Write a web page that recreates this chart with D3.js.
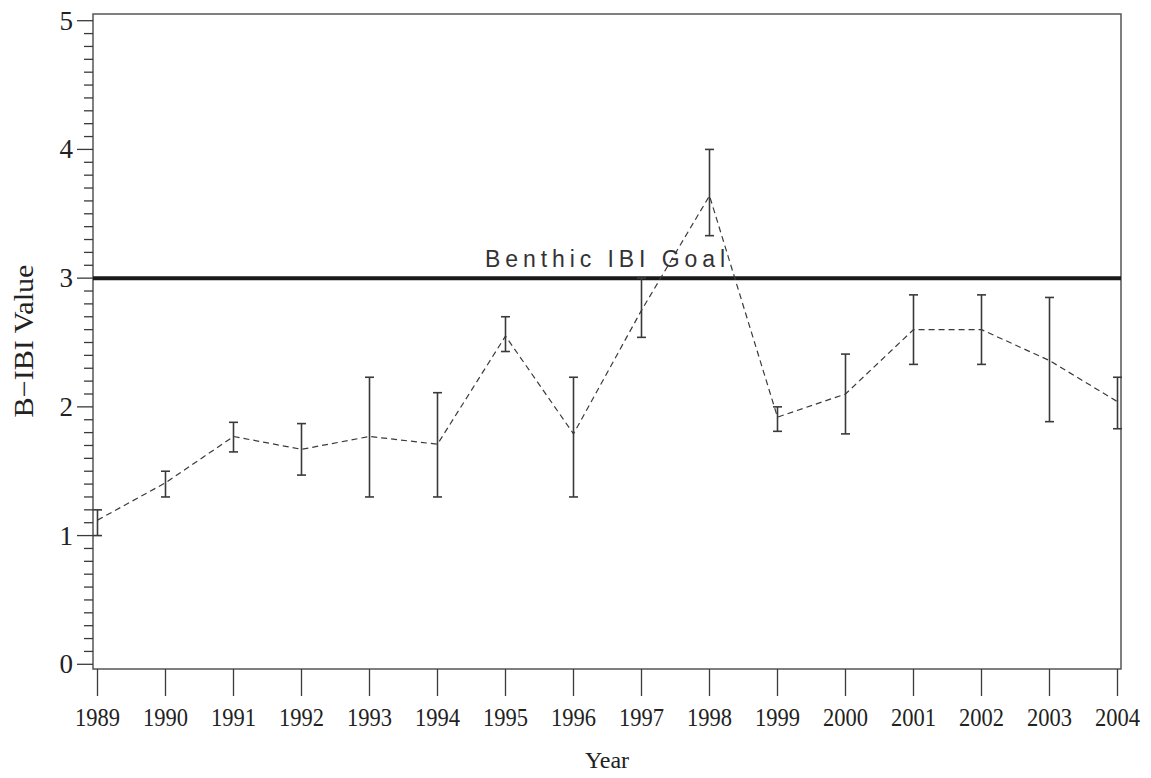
<!DOCTYPE html>
<html><head><meta charset="utf-8">
<script src="https://cdn.jsdelivr.net/npm/d3@7"></script>
<style>body{margin:0;background:#fff;} svg{display:block;}</style>
</head><body>
<svg id="c" width="1151" height="778"></svg>
<script>
const years = [1989,1990,1991,1992,1993,1994,1995,1996,1997,1998,1999,2000,2001,2002,2003,2004];
const means = [1.12,1.41,1.77,1.67,1.77,1.71,2.55,1.79,2.75,3.64,1.92,2.10,2.60,2.60,2.36,2.04];
const upper = [1.20,1.50,1.88,1.87,2.23,2.11,2.70,2.23,3.00,4.00,2.00,2.41,2.87,2.87,2.85,2.23];
const lower = [1.00,1.30,1.65,1.47,1.30,1.30,2.43,1.30,2.54,3.33,1.81,1.79,2.33,2.33,1.885,1.83];
const yTicks = [0,1,2,3,4,5];
const goal = 3;

const svg = d3.select("#c");
const L=93, R=1121, T=14, B=669;
const x = d3.scaleLinear().domain([1989,2004]).range([97.5,1117.5]);
const y = d3.scaleLinear().domain([0,5]).range([664.3,20.7]);
const ink = "#3a3a3a";

// frame
svg.append("rect").attr("x",L).attr("y",T).attr("width",R-L).attr("height",B-T)
  .attr("fill","none").attr("stroke","#555").attr("stroke-width",1.5);

// y axis major + minor ticks
const yMinor = d3.range(0,50.5,1).map(d=>d/10);
svg.append("g").selectAll("line").data(yMinor).join("line")
  .attr("x1",d=>Math.abs(d-Math.round(d))<1e-9?77:84).attr("x2",L)
  .attr("y1",d=>y(d)).attr("y2",d=>y(d)).attr("stroke",ink).attr("stroke-width",1.3);
svg.append("g").selectAll("text").data(yTicks).join("text")
  .attr("x",73).attr("y",d=>y(d)+9).attr("text-anchor","end")
  .attr("font-family","Liberation Serif, serif").attr("font-size",27).attr("fill","#222")
  .text(d=>d);

// x axis ticks
svg.append("g").selectAll("line").data(years).join("line")
  .attr("x1",d=>x(d)).attr("x2",d=>x(d)).attr("y1",B).attr("y2",696)
  .attr("stroke",ink).attr("stroke-width",1.3);
svg.append("g").selectAll("text").data(years).join("text")
  .attr("x",d=>x(d)).attr("y",726).attr("text-anchor","middle")
  .attr("font-family","Liberation Serif, serif").attr("font-size",26)
  .attr("textLength",45).attr("lengthAdjust","spacingAndGlyphs")
  .attr("fill","#222").text(d=>d);

// axis titles
svg.append("text").attr("transform","translate(33,341) rotate(-90)").attr("text-anchor","middle")
  .attr("font-family","Liberation Serif, serif").attr("font-size",27).attr("fill","#222")
  .attr("textLength",153).attr("lengthAdjust","spacingAndGlyphs").text("B\u2212IBI Value");
svg.append("text").attr("x",607).attr("y",768).attr("text-anchor","middle")
  .attr("font-family","Liberation Serif, serif").attr("font-size",24).attr("fill","#222").text("Year");

// goal line
svg.append("line").attr("x1",L).attr("x2",R).attr("y1",y(goal)).attr("y2",y(goal))
  .attr("stroke","#1a1a1a").attr("stroke-width",4);
svg.append("text").attr("x",485).attr("y",267).attr("textLength",240).attr("lengthAdjust","spacing")
  .attr("font-family","Liberation Sans, sans-serif").attr("font-size",23).attr("fill","#333")
  .text("Benthic IBI Goal");

// dashed mean line
const idx = d3.range(years.length);
svg.append("path").datum(idx)
  .attr("d", d3.line().x(i=>x(years[i])).y(i=>y(means[i])))
  .attr("fill","none").attr("stroke",ink).attr("stroke-width",1.2).attr("stroke-dasharray","6,4");

// error bars
const eb = svg.append("g").attr("stroke",ink).attr("stroke-width",1.6);
idx.forEach(i=>{
  const cx=x(years[i]);
  eb.append("line").attr("x1",cx).attr("x2",cx).attr("y1",y(upper[i])).attr("y2",y(lower[i]));
  eb.append("line").attr("x1",cx-4.5).attr("x2",cx+4.5).attr("y1",y(upper[i])).attr("y2",y(upper[i]));
  eb.append("line").attr("x1",cx-4.5).attr("x2",cx+4.5).attr("y1",y(lower[i])).attr("y2",y(lower[i]));
});
</script>
</body></html>
